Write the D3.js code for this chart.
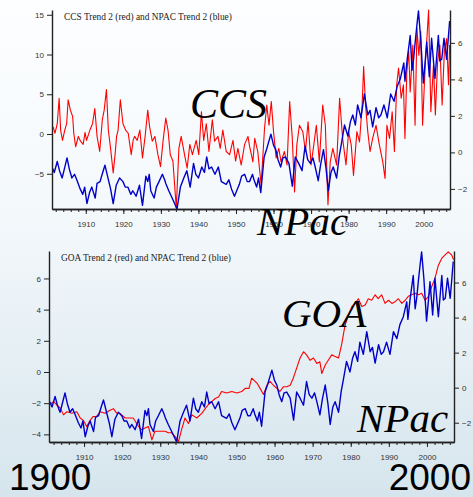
<!DOCTYPE html>
<html>
<head>
<meta charset="utf-8">
<script src="https://cdn.jsdelivr.net/npm/d3@7"></script>
<style>
  html, body { margin: 0; padding: 0; background: #fff; }
  svg { display: block; }
  .axis .tick text { font-family: "Liberation Sans", Arial, sans-serif; font-size: 8px; fill: #333; }
  .axis .domain, .axis .tick line { stroke: #222; }
  .axis .domain { stroke-width: 1.4; }
</style>
</head>
<body>
<svg id="chart" width="473" height="497"></svg>
<script>
// ---- data ----
// NPAC Trend 2, shared by both panels, right-axis units
const npacTrend = [
  [1901.0,-0.8],[1901.6,-1.1],[1902.4,-0.5],[1903.0,-1.0],[1903.7,-1.4],[1904.3,-0.9],[1905.0,-0.3],
  [1905.6,-0.9],[1906.3,-1.4],[1907.0,-1.2],[1907.6,-1.5],[1908.5,-2.0],[1909.2,-2.3],[1909.7,-1.9],
  [1910.3,-2.8],[1911.0,-2.2],[1911.6,-1.9],[1912.5,-2.5],[1913.0,-1.7],[1913.8,-1.6],[1914.5,-1.1],
  [1915.1,-0.7],[1915.9,-1.4],[1916.6,-2.0],[1917.3,-2.8],[1918.1,-1.8],[1919.0,-1.4],[1919.9,-1.6],
  [1920.5,-1.9],[1921.2,-1.9],[1922.0,-2.3],[1922.5,-2.1],[1923.4,-2.4],[1924.3,-1.8],[1925.1,-2.9],
  [1926.0,-1.3],[1926.5,-1.6],[1926.9,-1.2],[1927.3,-2.1],[1928.2,-2.5],[1928.8,-1.9],[1929.5,-1.6],
  [1930.4,-1.2],[1931.0,-1.5],[1931.3,-1.7],[1932.1,-2.1],[1933.0,-2.5],[1934.3,-3.1],[1935.2,-1.9],
  [1936.1,-1.4],[1936.9,-1.0],[1937.8,-1.9],[1938.7,-0.6],[1939.3,-1.2],[1940.0,-1.4],[1940.9,-0.8],
  [1941.6,-1.1],[1942.2,-0.25],[1942.8,-0.9],[1943.5,-0.8],[1944.4,-1.2],[1945.3,-0.8],[1946.1,-1.6],
  [1947.4,-1.75],[1948.1,-1.5],[1948.8,-2.0],[1949.6,-2.4],[1950.9,-1.75],[1951.5,-1.3],[1952.3,-1.2],
  [1953.0,-1.6],[1953.6,-1.6],[1954.4,-1.2],[1954.8,-1.5],[1955.5,-1.9],[1956.0,-1.4],[1956.6,-2.2],
  [1957.5,-0.25],[1958.2,0.2],[1959.3,1.0],[1960.0,0.4],[1960.6,0.15],[1961.2,-0.4],[1961.9,-0.8],
  [1962.5,-0.3],[1963.2,-0.25],[1964.1,-0.6],[1965.0,-1.85],[1965.8,-0.25],[1966.7,-0.6],[1967.6,-1.0],
  [1968.4,0.35],[1969.1,-0.4],[1969.8,-0.6],[1970.5,-0.3],[1971.1,-0.8],[1971.9,-1.55],[1972.6,-0.6],
  [1973.3,0.15],[1974.0,-0.9],[1974.6,-2.1],[1975.3,-1.1],[1975.9,-0.8],[1976.8,-1.4],[1977.5,-0.2],
  [1978.1,0.5],[1978.9,1.5],[1979.8,0.9],[1980.5,1.7],[1981.1,2.05],[1981.8,1.5],[1982.4,2.6],
  [1983.3,1.9],[1984.2,3.2],[1985.1,2.05],[1985.7,2.3],[1986.4,1.4],[1987.3,2.45],[1988.0,1.9],
  [1988.6,2.05],[1989.4,2.6],[1990.3,1.9],[1991.2,3.2],[1992.1,2.8],[1992.9,3.6],[1993.8,4.05],
  [1994.7,4.9],[1995.0,3.9],[1995.6,5.1],[1996.4,6.4],[1996.9,4.5],[1997.3,5.1],[1997.8,6.2],
  [1998.2,7.0],[1998.6,7.75],[1999.2,6.2],[1999.9,3.8],[2000.4,5.0],[2000.8,6.05],[2001.5,4.15],
  [2002.1,6.25],[2002.6,5.0],[2003.0,4.05],[2003.9,6.4],[2004.3,5.0],[2004.8,5.1],[2005.4,6.25],
  [2006.1,5.1],[2006.6,6.4],[2006.9,7.2]
];

// CCS Trend 2, top panel, left-axis units
const ccsTrend = [
  [1901.3,0.9],[1901.8,0.1],[1902.4,1.3],[1902.9,4.5],[1903.3,0.5],[1903.8,-0.8],[1904.4,0.5],
  [1904.9,1.3],[1905.3,4.3],[1905.9,3.0],[1906.5,2.2],[1906.8,0.1],[1907.3,-1.6],[1908.0,-0.3],
  [1908.6,-0.9],[1909.3,-1.3],[1909.8,0.2],[1910.2,-0.8],[1911.1,0.5],[1911.8,1.3],[1912.4,3.2],
  [1913.0,-0.3],[1913.7,-2.2],[1914.4,1.8],[1914.9,3.0],[1915.5,5.6],[1916.0,0.5],[1916.6,-1.8],
  [1917.3,-4.9],[1917.8,-2.6],[1918.2,-0.3],[1918.6,0.5],[1919.2,4.3],[1919.9,1.3],[1920.6,0.5],
  [1921.3,0.1],[1922.1,-2.6],[1922.6,-0.8],[1923.0,-0.3],[1923.7,-0.8],[1924.4,0.5],[1925.1,-3.0],
  [1925.8,-0.3],[1926.5,3.0],[1927.0,0.9],[1927.7,-0.9],[1928.4,-0.3],[1929.2,-2.6],[1929.9,-4.1],
  [1930.6,-0.8],[1931.3,2.0],[1931.9,0.5],[1932.5,-2.6],[1933.2,-3.4],[1934.1,-9.3],[1934.8,-1.8],
  [1935.4,-0.3],[1936.3,-2.6],[1937.0,-4.3],[1937.7,-1.3],[1938.4,-2.6],[1939.4,-0.8],[1940.1,-2.6],
  [1940.8,2.8],[1941.4,-0.8],[1942.1,1.3],[1942.8,-2.2],[1943.7,1.8],[1944.3,-0.9],[1945.2,-0.3],
  [1945.8,-1.8],[1946.5,0.5],[1947.4,-2.2],[1948.3,-2.6],[1949.2,-0.8],[1949.9,-3.4],[1950.5,-1.8],
  [1951.4,-3.9],[1952.3,-1.3],[1953.2,-0.3],[1953.6,-1.5],[1954.1,-2.6],[1954.5,-3.5],[1955.0,-0.55],
  [1955.8,-2.2],[1956.7,-6.4],[1957.6,0.7],[1958.2,3.65],[1958.8,1.1],[1959.4,4.1],[1960.0,0.3],
  [1960.7,-3.0],[1961.4,-1.8],[1962.0,-3.5],[1962.9,-2.2],[1963.6,-3.9],[1964.3,4.1],[1965.0,-0.55],
  [1965.6,-7.3],[1966.2,-1.4],[1966.9,1.1],[1967.8,0.3],[1968.5,-2.2],[1969.2,1.55],[1970.0,-3.9],
  [1970.6,-1.8],[1971.4,1.1],[1972.2,-3.5],[1973.1,3.65],[1973.8,1.1],[1974.5,-8.9],[1975.1,-3.5],
  [1975.8,-1.8],[1976.8,-3.9],[1977.6,4.5],[1978.4,-0.55],[1979.3,-3.9],[1980.0,0.3],[1980.7,-1.4],
  [1981.3,-5.2],[1982.2,0.3],[1982.9,-1.0],[1983.6,3.65],[1984.0,8.5],[1984.5,3.65],[1985.1,0.3],
  [1985.7,-2.2],[1986.4,-0.55],[1987.3,1.1],[1988.2,-1.4],[1989.1,-3.5],[1989.7,-5.6],[1990.2,1.1],
  [1990.9,-0.55],[1991.6,2.8],[1992.2,-2.2],[1992.8,6.2],[1993.3,8.3],[1994.0,4.5],[1994.6,6.2],
  [1995.0,-0.55],[1995.5,7.8],[1996.0,10.4],[1996.4,5.3],[1997.1,11.2],[1997.7,1.1],[1998.2,13.3],
  [1998.7,9.9],[1999.2,12.9],[1999.7,1.1],[2000.4,8.7],[2000.9,12.45],[2001.3,15.6],[2001.9,2.8],
  [2002.6,8.7],[2003.1,2.4],[2003.7,9.1],[2004.3,11.2],[2004.9,3.65],[2005.5,10.4],[2006.1,12.0],
  [2006.6,6.2],[2006.9,11.2]
];

// GOA Trend 2, bottom panel, left-axis units
const goaTrend = [
  [1900.9,-2.1],[1902.0,-1.9],[1902.8,-2.1],[1903.7,-2.3],[1904.6,-2.75],[1905.5,-2.55],[1906.8,-2.65],
  [1908.1,-2.55],[1909.0,-2.95],[1909.8,-3.1],[1910.7,-3.5],[1911.6,-3.1],[1912.4,-2.85],[1913.3,-2.85],
  [1914.2,-2.55],[1915.5,-2.65],[1916.8,-2.45],[1917.7,-2.35],[1918.6,-2.65],[1919.4,-2.65],[1920.8,-2.95],
  [1922.1,-2.95],[1922.9,-2.95],[1924.3,-3.5],[1925.1,-3.7],[1926.0,-3.6],[1926.9,-3.5],[1927.8,-4.35],
  [1928.6,-3.8],[1929.9,-3.8],[1931.3,-3.8],[1932.1,-3.9],[1933.0,-3.9],[1933.9,-4.15],[1934.8,-4.45],
  [1935.6,-3.7],[1936.5,-2.95],[1937.4,-3.3],[1938.3,-2.75],[1939.6,-2.95],[1940.9,-2.65],[1941.8,-2.35],
  [1942.6,-2.1],[1943.5,-1.9],[1944.4,-1.7],[1945.3,-1.6],[1946.1,-1.25],[1947.4,-1.35],[1948.8,-1.25],
  [1950.1,-1.35],[1951.4,-1.25],[1952.3,-1.05],[1953.3,-1.05],[1954.0,-0.4],[1954.9,-0.6],[1955.5,-0.75],
  [1956.2,-1.05],[1957.1,-1.45],[1958.0,-0.85],[1958.8,-0.6],[1959.7,-0.85],[1960.6,-1.05],[1961.4,-1.25],
  [1962.3,-0.95],[1963.2,-0.95],[1964.1,-0.85],[1964.9,-0.4],[1965.8,0.25],[1966.7,0.9],[1967.6,1.3],
  [1968.4,1.1],[1969.3,0.75],[1970.2,0.9],[1971.1,0.55],[1971.9,0.65],[1972.4,-0.1],[1973.3,0.45],
  [1974.1,0.75],[1975.0,1.1],[1975.9,1.0],[1976.8,0.9],[1977.6,1.75],[1978.5,3.0],[1979.4,3.65],
  [1980.3,4.2],[1981.1,4.4],[1982.0,4.7],[1982.9,4.2],[1983.8,4.3],[1984.6,4.7],[1985.5,4.6],
  [1986.4,4.95],[1987.2,4.7],[1988.1,4.95],[1989.0,4.4],[1989.9,4.6],[1990.8,4.4],[1991.6,4.5],
  [1992.5,4.7],[1993.4,4.4],[1994.3,4.6],[1995.1,4.85],[1996.0,4.95],[1996.9,5.05],[1997.8,4.95],
  [1998.6,5.05],[1999.5,4.6],[2000.4,4.85],[2001.2,5.45],[2002.1,6.0],[2003.0,6.85],[2003.9,7.3],
  [2004.7,7.5],[2005.6,7.7],[2006.5,7.5],[2007.0,7.2]
];

// tick labels / titles
const ccsLeftTicks = [-5, 0, 5, 10, 15];
const goaLeftTicks = [-4, -2, 0, 2, 4, 6];
const npacRightTicks = [-2, 0, 2, 4, 6];
const decadeTicks = d3.range(1910, 2001, 10);
const minorYearTicks = d3.range(1902, 2007, 2);
const titles = ["CCS Trend 2 (red) and NPAC Trend 2 (blue)", "GOA Trend 2 (red) and NPAC Trend 2 (blue)"];

// ---- drawing ----
const svg = d3.select("#chart");

// slide background
const defs = svg.append("defs");
const grad = defs.append("linearGradient").attr("id", "bg").attr("x1", 0).attr("y1", 0).attr("x2", 0).attr("y2", 1);
grad.append("stop").attr("offset", "0%").attr("stop-color", "#fdfeff");
grad.append("stop").attr("offset", "45%").attr("stop-color", "#f3f8fb");
grad.append("stop").attr("offset", "100%").attr("stop-color", "#d6e5ed");
svg.append("rect").attr("width", 473).attr("height", 497).attr("fill", "url(#bg)");

function drawPanel(cfg) {
  const g = svg.append("g");
  const x = d3.scaleLinear().domain(cfg.xDomain).range([cfg.left, cfg.right]);
  const yL = d3.scaleLinear().domain(cfg.leftDomain).range([cfg.bottom, cfg.top]);
  const yR = d3.scaleLinear().domain(cfg.rightDomain).range([cfg.bottom, cfg.top]);

  defs.append("clipPath").attr("id", cfg.id + "-clip")
    .append("rect").attr("x", cfg.left).attr("y", cfg.top - 1)
    .attr("width", cfg.right - cfg.left).attr("height", cfg.bottom - cfg.top + 1);

  // series
  const lineL = d3.line().x(d => x(d[0])).y(d => yL(d[1]));
  const lineR = d3.line().x(d => x(d[0])).y(d => yR(d[1]));
  const plot = g.append("g").attr("clip-path", `url(#${cfg.id}-clip)`);
  plot.append("path").datum(cfg.red).attr("d", lineL)
    .attr("fill", "none").attr("stroke", "#ff0000").attr("stroke-width", cfg.redWidth)
    .attr("stroke-linejoin", "round");
  plot.append("path").datum(npacTrend).attr("d", lineR)
    .attr("fill", "none").attr("stroke", "#0000c8").attr("stroke-width", 1.4)
    .attr("stroke-linejoin", "round");

  // axes
  g.append("g").attr("class", "axis").attr("transform", `translate(${cfg.left},0)`)
    .call(d3.axisLeft(yL).tickValues(cfg.leftTicks).tickSize(5).tickSizeOuter(0).tickPadding(3)
      .tickFormat(d3.format("d")));
  g.append("g").attr("class", "axis").attr("transform", `translate(${cfg.right},0)`)
    .call(d3.axisRight(yR).tickValues(npacRightTicks).tickSize(5).tickSizeOuter(0).tickPadding(3)
      .tickFormat(d3.format("d")));
  g.append("g").attr("class", "axis").attr("transform", `translate(0,${cfg.bottom})`)
    .call(d3.axisBottom(x).tickValues(minorYearTicks).tickSize(3).tickSizeOuter(0).tickFormat(""));
  g.append("g").attr("class", "axis").attr("transform", `translate(0,${cfg.bottom})`)
    .call(d3.axisBottom(x).tickValues(decadeTicks).tickSize(5).tickSizeOuter(0).tickPadding(7)
      .tickFormat(d3.format("d")));

  // title inside plot
  g.append("text").attr("x", cfg.left + 12).attr("y", cfg.top + 9.5)
    .attr("font-family", "Liberation Serif, Times New Roman, serif").attr("font-size", 9.4)
    .attr("fill", "#222").text(cfg.title);
}

drawPanel({
  id: "ccs", title: titles[0], red: ccsTrend, redWidth: 1.1,
  left: 52, right: 450, top: 10, bottom: 209,
  xDomain: [1901, 2007], leftDomain: [-9.43, 15.6], rightDomain: [-3.1, 7.8],
  leftTicks: ccsLeftTicks
});
drawPanel({
  id: "goa", title: titles[1], red: goaTrend, redWidth: 1.1,
  left: 49, right: 454, top: 251, bottom: 442,
  xDomain: [1900.8, 2007.1], leftDomain: [-4.49, 7.76], rightDomain: [-3.1, 7.8],
  leftTicks: goaLeftTicks
});

// big slide labels
const big = svg.append("g").attr("font-family", "Liberation Serif, Times New Roman, serif")
  .attr("font-style", "italic").attr("fill", "#000");
big.append("text").attr("x", 190).attr("y", 118).attr("font-size", 42).text("CCS");
big.append("text").attr("x", 257).attr("y", 235).attr("font-size", 41).text("NPac");
big.append("text").attr("x", 282).attr("y", 327).attr("font-size", 41).text("GOA");
big.append("text").attr("x", 357).attr("y", 432).attr("font-size", 41).text("NPac");

const yrs = svg.append("g").attr("font-family", "Liberation Sans, Arial, sans-serif").attr("fill", "#000");
yrs.append("text").attr("x", 9).attr("y", 490).attr("font-size", 37).text("1900");
yrs.append("text").attr("x", 471).attr("y", 490).attr("text-anchor", "end").attr("font-size", 37).text("2000");
</script>
</body>
</html>
